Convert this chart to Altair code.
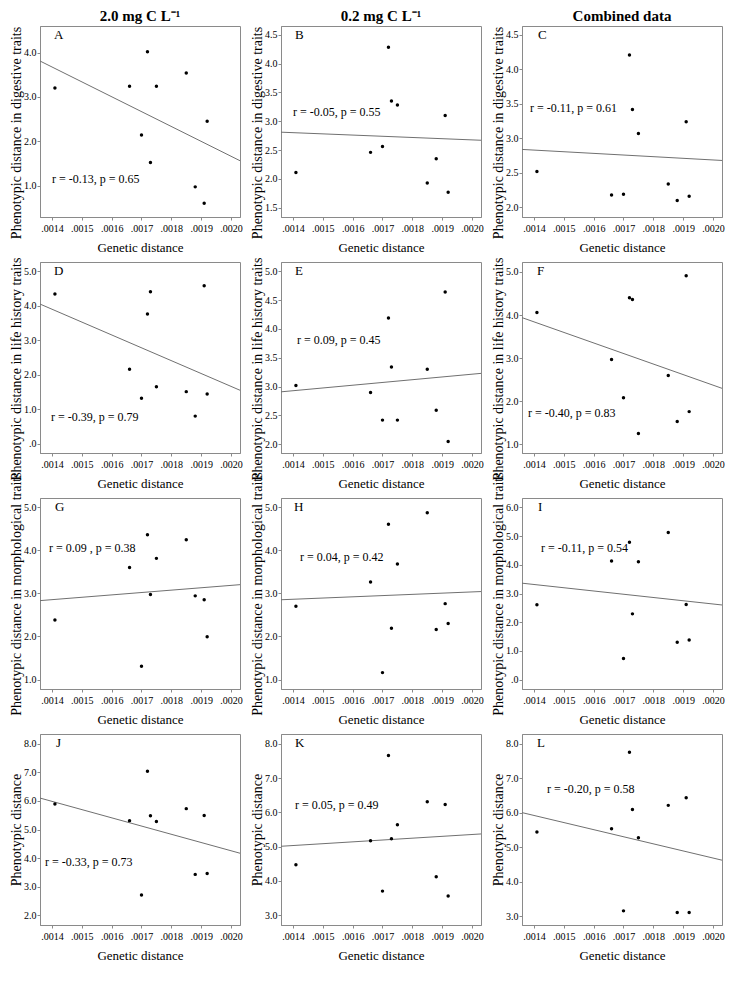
import altair as alt
import pandas as pd

# ---------------- data ----------------
genetic_distance = [0.00141, 0.00166, 0.00170, 0.00172, 0.00173, 0.00175, 0.00185, 0.00188, 0.00191, 0.00192]

pheno_A = [3.20, 3.24, 2.14, 4.02, 1.52, 3.24, 3.54, 0.97, 0.60, 2.45]
pheno_B = [2.11, 2.46, 2.56, 4.28, 3.35, 3.28, 1.93, 2.35, 3.10, 1.77]
pheno_C = [2.52, 2.18, 2.19, 4.21, 3.42, 3.07, 2.34, 2.10, 3.24, 2.16]
pheno_D = [4.34, 2.16, 1.32, 3.76, 4.41, 1.65, 1.51, 0.80, 4.58, 1.44]
pheno_E = [3.02, 2.90, 2.42, 4.19, 3.34, 2.42, 3.30, 2.59, 4.64, 2.05]
pheno_F = [4.06, 2.97, 2.08, 4.40, 4.36, 1.25, 2.60, 1.53, 4.91, 1.76]
pheno_G = [2.38, 3.60, 1.31, 4.36, 2.97, 3.81, 4.24, 2.94, 2.85, 1.99]
pheno_H = [2.70, 3.26, 1.16, 4.60, 2.19, 3.68, 4.87, 2.16, 2.76, 2.30]
pheno_I = [2.61, 4.13, 0.73, 4.79, 2.29, 4.11, 5.13, 1.30, 2.62, 1.38]
pheno_J = [5.89, 5.31, 2.71, 7.04, 5.48, 5.28, 5.73, 3.43, 5.49, 3.46]
pheno_K = [4.47, 5.17, 3.70, 7.66, 5.23, 5.64, 6.31, 4.12, 6.23, 3.56]
pheno_L = [5.44, 5.53, 3.15, 7.75, 6.09, 5.27, 6.21, 3.10, 6.43, 3.10]

panel_values = [pheno_A, pheno_B, pheno_C, pheno_D, pheno_E, pheno_F,
                pheno_G, pheno_H, pheno_I, pheno_J, pheno_K, pheno_L]

# fitted regression line, value at left and right edge of x axis
fit_left = [3.81, 2.81, 2.84, 4.05, 2.91, 3.94, 2.83, 2.85, 3.36, 6.10, 5.01, 6.00]
fit_right = [1.56, 2.67, 2.68, 1.55, 3.23, 2.30, 3.20, 3.04, 2.60, 4.17, 5.37, 4.62]

x_domain = [0.00136, 0.00203]
x_ticks = [0.0014, 0.0015, 0.0016, 0.0017, 0.0018, 0.0019, 0.0020]

y_min = [0.29, 1.34, 1.86, -0.27, 1.85, 0.80, 0.78, 0.78, -0.33, 1.66, 2.71, 2.74]
y_max = [4.60, 4.65, 4.63, 5.27, 5.16, 5.23, 5.21, 5.21, 6.33, 8.34, 8.29, 8.28]
y_ticks = [
    [1, 2, 3, 4],
    [1.5, 2, 2.5, 3, 3.5, 4, 4.5],
    [2, 2.5, 3, 3.5, 4, 4.5],
    [0, 1, 2, 3, 4, 5],
    [2, 2.5, 3, 3.5, 4, 4.5, 5],
    [1, 2, 3, 4, 5],
    [1, 2, 3, 4, 5],
    [1, 2, 3, 4, 5],
    [0, 1, 2, 3, 4, 5, 6],
    [2, 3, 4, 5, 6, 7, 8],
    [3, 4, 5, 6, 7, 8],
    [3, 4, 5, 6, 7, 8],
]

panel_letters = ["A", "B", "C", "D", "E", "F", "G", "H", "I", "J", "K", "L"]
stat_labels = [
    "r = -0.13, p = 0.65", "r = -0.05, p = 0.55", "r = -0.11, p = 0.61",
    "r = -0.39, p = 0.79", "r = 0.09, p = 0.45", "r = -0.40, p = 0.83",
    "r = 0.09 , p = 0.38", "r = 0.04, p = 0.42", "r = -0.11, p = 0.54",
    "r = -0.33, p = 0.73", "r = 0.05, p = 0.49", "r = -0.20, p = 0.58",
]
row_titles = [
    "Phenotypic distance in digestive traits",
    "Phenotypic distance in life history traits",
    "Phenotypic distance in morphological traits",
    "Phenotypic distance",
]
col_titles = ["2.0 mg C L\u207b\u00b9", "0.2 mg C L\u207b\u00b9", "Combined data"]
x_title = "Genetic distance"

# ---------------- layout / style ----------------
W, H = 200, 191
FONT = "Liberation Serif"
letter_x = [14, 14, 16, 14, 14, 15, 15, 13, 16, 16, 14, 15]
stat_x = [12, 12, 8, 11, 16, 6, 9, 19, 19, 5, 14, 25]
stat_yfrac = [0.80, 0.45, 0.43, 0.81, 0.41, 0.79, 0.26, 0.31, 0.26, 0.67, 0.37, 0.29]
title_shift = [11, 11, 0, 0]

x_label_expr = "replace(format(datum.value, '.4f'), '0.', '.')"
y_label_expr = "datum.value == 0 ? '.0' : format(datum.value, '.1f')"


def panel(i):
    row, col = divmod(i, 3)
    df = pd.DataFrame({"g": genetic_distance, "p": panel_values[i]})
    x_enc = alt.X(
        "g:Q",
        scale=alt.Scale(domain=x_domain, nice=False, zero=False),
        axis=alt.Axis(values=x_ticks, tickCount=30, labelExpr=x_label_expr, title=x_title,
                      labelFlush=False, labelOverlap=False),
    )
    y_enc = alt.Y(
        "p:Q",
        scale=alt.Scale(domain=[y_min[i], y_max[i]], nice=False, zero=False),
        axis=alt.Axis(values=y_ticks[i], tickCount=30, labelExpr=y_label_expr, title=row_titles[row],
                      titleY=H / 2 + title_shift[row], labelOverlap=False, labelFlush=False),
    )
    pts = alt.Chart(df).mark_circle(size=12, color="black", opacity=1).encode(x=x_enc, y=y_enc)
    fit_df = pd.DataFrame({"g": x_domain, "p": [fit_left[i], fit_right[i]]})
    fit = alt.Chart(fit_df).mark_line(color="#707070", strokeWidth=1).encode(x="g:Q", y="p:Q")
    let = alt.Chart(pd.DataFrame({"t": [panel_letters[i]]})).mark_text(
        font=FONT, fontSize=13, align="left", baseline="top", color="black"
    ).encode(text="t:N", x=alt.value(letter_x[i]), y=alt.value(3))
    stat = alt.Chart(pd.DataFrame({"t": [stat_labels[i]]})).mark_text(
        font=FONT, fontSize=12, align="left", baseline="middle", color="black"
    ).encode(text="t:N", x=alt.value(stat_x[i]), y=alt.value(stat_yfrac[i] * H))
    ch = alt.layer(fit, pts, let, stat).properties(width=W, height=H)
    if row == 0:
        ch = ch.properties(title=alt.TitleParams(col_titles[col], font=FONT, fontSize=15,
                                                 fontWeight="bold", color="black"))
    return ch


chart = alt.concat(
    *[panel(i) for i in range(12)],
    columns=3,
    spacing={"row": 45, "column": 41},
    bounds="flush",
).properties(padding=0, background="white").configure_view(
    stroke="#8a8a8a", strokeWidth=1
).configure_axis(
    grid=False,
    domainColor="#8a8a8a",
    tickColor="#8a8a8a",
    tickSize=3,
    labelFont=FONT,
    titleFont=FONT,
    labelColor="black",
    titleColor="black",
    labelFontSize=10,
    titleFontSize=13,
    titleFontWeight="normal",
).configure_axisY(
    titleFontSize=14, minExtent=16, maxExtent=16, titlePadding=1, labelPadding=1
).configure_axisX(
    labelPadding=3, titlePadding=8
).configure_title(
    font=FONT, fontSize=15, fontWeight="bold", offset=2, anchor="middle", color="black"
)

chart.save("out.html", embed_options={"renderer": "svg", "actions": False})
